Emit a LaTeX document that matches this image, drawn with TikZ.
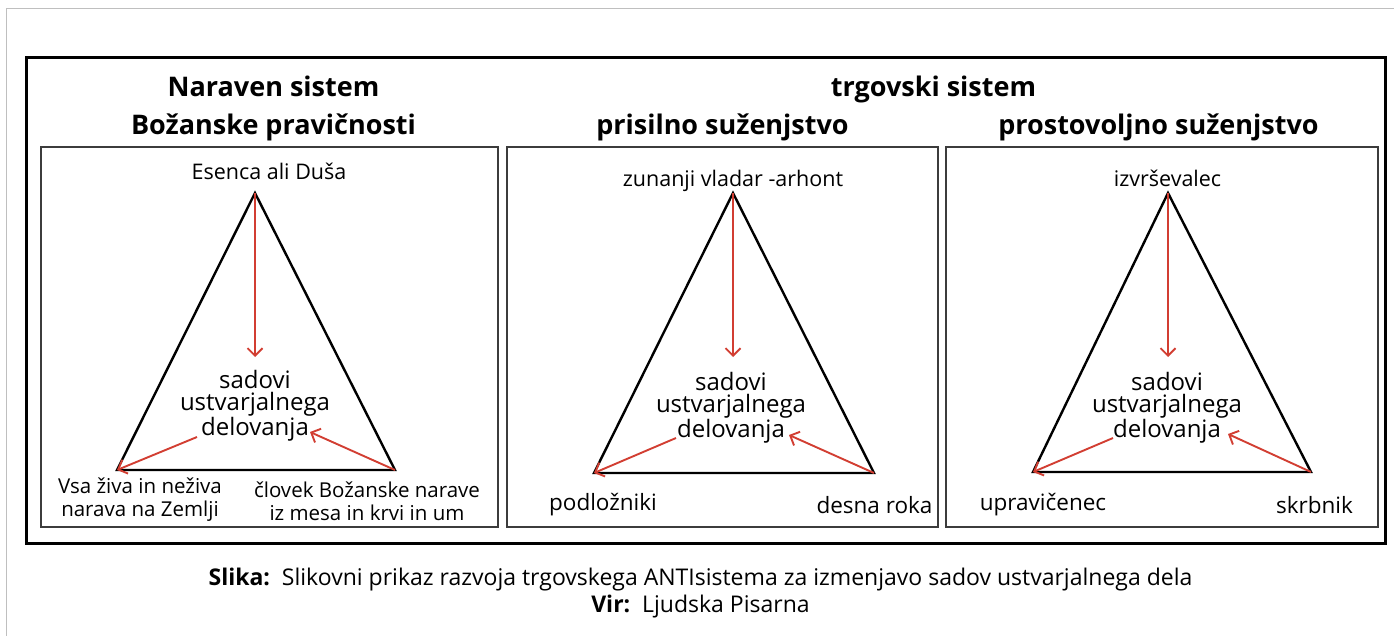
\documentclass[tikz,border=0pt]{standalone}
\usepackage{fontspec}
\setmainfont{Open Sans}
\usepackage{tikz}
\usetikzlibrary{arrows.meta}
\definecolor{arrowred}{RGB}{210,62,50}
\definecolor{boxgray}{RGB}{60,60,60}

\begin{document}
\begin{tikzpicture}[x=1pt,y=-1pt,
  box/.style={draw=boxgray,line width=1.3pt},
  tri/.style={draw=black,line width=2.4pt},
  redarr/.style={draw=arrowred,line width=1.9pt,-{Straight Barb[length=7.5pt,width=15pt]}},
  head/.style={font=\fontsize{27}{30}\selectfont\bfseries,anchor=base,inner sep=0pt},
  toplbl/.style={font=\fontsize{21.5}{24}\selectfont,anchor=base,inner sep=0pt},
  midlbl/.style={font=\fontsize{24}{21.5}\selectfont,align=center,inner sep=0pt},
  lbl/.style={font=\fontsize{20.5}{23}\selectfont,align=center,inner sep=0pt},
  cornerlbl/.style={font=\fontsize{22.5}{24}\selectfont,inner sep=0pt},
  captext/.style={font=\fontsize{23}{26}\selectfont,anchor=base,inner sep=0pt}]
\useasboundingbox (0,0) rectangle (1394,636);
\draw[gray!50,line width=1pt] (6,636) -- (6,9) -- (1394,9);
\draw[line width=3pt] (26,58) rectangle (1385,543);
\draw[box] (41,147) rectangle (498,527);
\draw[box] (507,147) rectangle (938,527);
\draw[box] (946,147) rectangle (1378,527);

% headings
\node[head] (h1a) at (273.5,97) {Naraven sistem};
\node[head] (h1b) at (273.5,135) {Božanske pravičnosti};
\node[head] (h23) at (933.5,97) {trgovski sistem};
\node[head] (h2) at (722.5,135) {prisilno suženjstvo};
\node[head] (h3) at (1158.5,135) {prostovoljno suženjstvo};

% triangle 1
\coordinate (a1) at (255,193);
\coordinate (l1) at (117,470);
\coordinate (r1) at (395,470);
\coordinate (d1) at (255,357);
\coordinate (m1l) at (197,437);
\coordinate (m1r) at (310,432);
\draw[tri] (a1) -- (l1) -- (r1) -- cycle;
\draw[redarr] (a1) -- (d1);
\draw[redarr] (m1l) -- (l1);
\draw[redarr] (r1) -- (m1r);
\node[toplbl] (top1) at (269,180) {Esenca ali Duša};
\node[midlbl] (mid1) at (255,406) {sadovi\\ustvarjalnega\\delovanja};
\node[lbl] (bl1) at (140,500) {Vsa živa in neživa\\narava na Zemlji};
\node[lbl] (br1) at (367,501) {človek Božanske narave\\iz mesa in krvi in um};

% triangle 2
\coordinate (a2) at (733,193);
\coordinate (l2) at (594,473);
\coordinate (r2) at (874,473);
\coordinate (d2) at (733,357);
\coordinate (m2l) at (676,438);
\coordinate (m2r) at (789,435);
\draw[tri] (a2) -- (l2) -- (r2) -- cycle;
\draw[redarr] (a2) -- (d2);
\draw[redarr] (m2l) -- (l2);
\draw[redarr] (r2) -- (m2r);
\node[toplbl] (top2) at (733,187) {zunanji vladar -arhont};
\node[midlbl] (mid2) at (731,408) {sadovi\\ustvarjalnega\\delovanja};
\node[cornerlbl] (bl2) at (603,505) {podložniki};
\node[cornerlbl] (br2) at (874.5,505) {desna roka};

% triangle 3
\coordinate (a3) at (1168,193);
\coordinate (l3) at (1033,472);
\coordinate (r3) at (1311,472);
\coordinate (d3) at (1168,357);
\coordinate (m3l) at (1113,438);
\coordinate (m3r) at (1228,434);
\draw[tri] (a3) -- (l3) -- (r3) -- cycle;
\draw[redarr] (a3) -- (d3);
\draw[redarr] (m3l) -- (l3);
\draw[redarr] (r3) -- (m3r);
\node[toplbl] (top3) at (1167.5,187) {izvrševalec};
\node[midlbl] (mid3) at (1167,408) {sadovi\\ustvarjalnega\\delovanja};
\node[cornerlbl] (bl3) at (1043,505) {upravičenec};
\node[cornerlbl] (br3) at (1314.5,505) {skrbnik};

% caption
\node[captext] (slika) at (700.5,585) {\textbf{Slika:}\ \ Slikovni prikaz razvoja trgovskega ANTIsistema za izmenjavo sadov ustvarjalnega dela};
\node[captext] (vir) at (700.5,612) {\textbf{Vir:}\ \ Ljudska Pisarna};
\end{tikzpicture}
\end{document}
